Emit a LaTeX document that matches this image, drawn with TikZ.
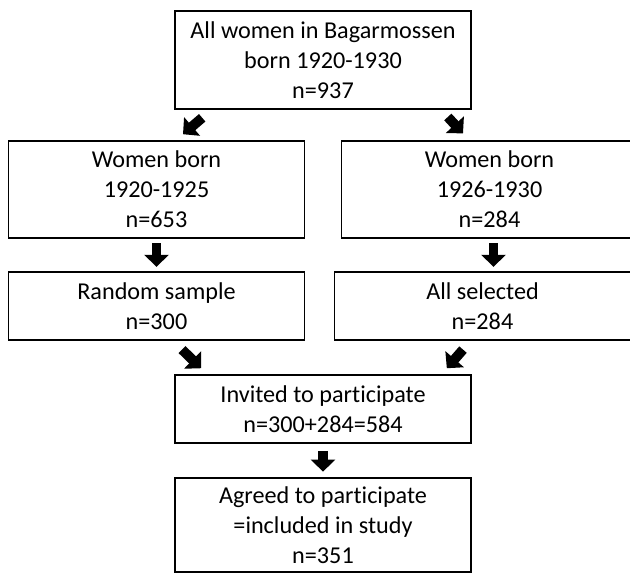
\documentclass[tikz,border=0pt]{standalone}
\usepackage{fontspec}
\setmainfont[Ligatures=NoCommon]{Carlito}
\usetikzlibrary{arrows.meta}

\begin{document}
\begin{tikzpicture}[x=0.025cm, y=-0.025cm,
    box/.style={rectangle, draw, line width=1.1pt, align=center, minimum width=7.4cm,
      font=\fontsize{17.2}{21.3}\selectfont},
    blk/.style={line width=7pt, -{Triangle[length=8.5pt, width=17pt]}}]

    \useasboundingbox (0,0) rectangle (630,575);
    \clip (0,0) rectangle (630,575);

    \node[box, minimum height=2.45cm] (all) at (323,60) {All women in Bagarmossen\\born 1920-1930\\n=937};
    \node[box, minimum height=2.425cm] (born1) at (156.5,189.5) {Women born\\1920-1925\\n=653};
    \node[box, minimum height=2.425cm] (born2) at (489.5,189.5) {Women born\\1926-1930\\n=284};
    \node[box, minimum height=1.7cm] (random) at (156.5,306) {Random sample\\n=300};
    \node[box, minimum height=1.7cm] (allsel) at (482.5,306) {All selected\\n=284};
    \node[box, minimum height=1.7cm] (invited) at (323,409) {Invited to participate\\n=300+284=584};
    \node[box, minimum height=2.35cm] (agreed) at (323,525) {Agreed to participate\\=included in study\\n=351};

    \draw[blk] ([xshift=0.7cm, yshift=-0.2cm]all.south west) -- ([xshift=0.6625cm, yshift=0.15cm]born1.north);
    \draw[blk] ([xshift=-0.6cm, yshift=-0.18cm]all.south east) -- ([xshift=-0.6625cm, yshift=0.17cm]born2.north);
    \draw[blk, shorten <=0.11cm, shorten >=0.11cm] (born1.south) -- (random.north);
    \draw[blk, shorten <=0.11cm, shorten >=0.11cm] ([xshift=0.1cm]born2.south) -- ([xshift=0.1cm]born2.south |- allsel.north);
    \draw[blk] ([xshift=0.6375cm, yshift=-0.22cm]random.south) -- ([xshift=0.675cm, yshift=0.15cm]invited.north west);
    \draw[blk] ([xshift=-0.4875cm, yshift=-0.22cm]allsel.south) -- ([xshift=-0.625cm, yshift=0.15cm]invited.north east);
    \draw[blk, shorten <=0.18cm, shorten >=0.14cm] (invited.south) -- (agreed.north);
\end{tikzpicture}
\end{document}
